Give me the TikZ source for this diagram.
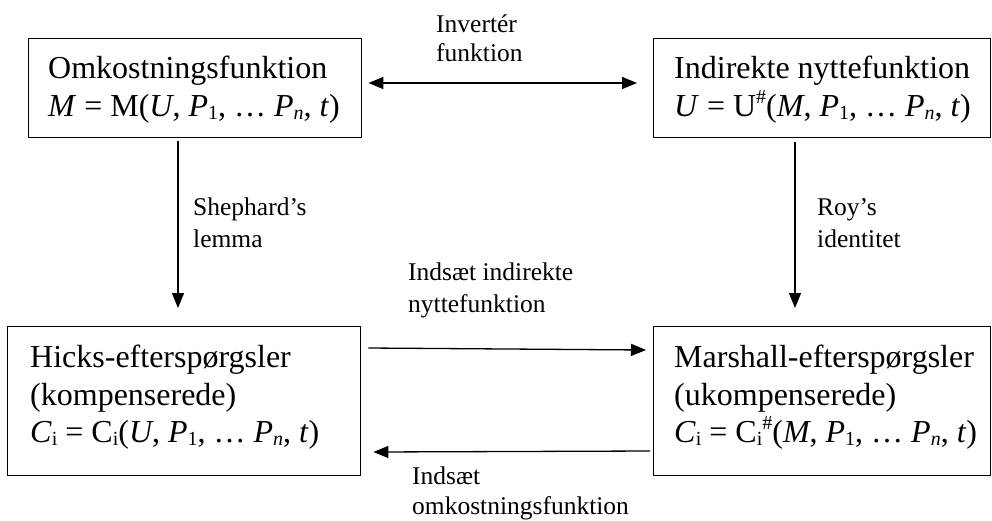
\documentclass[tikz,border=0pt]{standalone}
\usepackage{fontspec}
\setmainfont{Liberation Serif}
\usetikzlibrary{arrows.meta}
\newcommand\mysub[1]{\raisebox{-0.1em}{\fontsize{20}{20}\selectfont #1}}
\newcommand\mysup[1]{\raisebox{0.4em}{\fontsize{20}{20}\selectfont #1}}
\tikzset{
  box/.style={draw, line width=1.4pt, anchor=north west, inner sep=0pt},
  bigtxt/.style={anchor=base west, inner sep=0pt, font=\fontsize{32}{37}\selectfont},
  lbl/.style={anchor=base west, inner sep=0pt, font=\fontsize{25.5}{30}\selectfont},
  arr/.style={line width=1.3pt, -{Triangle[length=15pt,width=12pt]}},
  darr/.style={line width=1.3pt, {Triangle[length=15pt,width=12pt]}-{Triangle[length=15pt,width=12pt]}},
}
\begin{document}
\begin{tikzpicture}[x=1pt,y=-1pt]
\useasboundingbox (0,0) rectangle (992,520);
% boxes
\node[box, minimum width=333pt, minimum height=99pt] (tl) at (28,38) {};
\node[box, minimum width=337pt, minimum height=99pt] (tr) at (653,38) {};
\node[box, minimum width=353pt, minimum height=149pt] (bl) at (7,326) {};
\node[box, minimum width=337pt, minimum height=149pt] (br) at (653,326) {};
% box texts
\node[bigtxt] (tl1) at (48,78) {Omkostningsfunktion};
\node[bigtxt] (tl2) at (48,116) {\textit{M} = M(\textit{U}, \textit{P}\mysub{1}, … \textit{P}\mysub{\textit{n}}, \textit{t})};
\node[bigtxt] (tr1) at (674,78) {Indirekte nyttefunktion};
\node[bigtxt] (tr2) at (674,116) {\textit{U} = U\mysup{\#}(\textit{M}, \textit{P}\mysub{1}, … \textit{P}\mysub{\textit{n}}, \textit{t})};
\node[bigtxt] (bl1) at (30,367) {Hicks-efterspørgsler};
\node[bigtxt] (bl2) at (30,405) {(kompenserede)};
\node[bigtxt] (bl3) at (30,442) {\textit{C}\mysub{i} = C\mysub{i}(\textit{U}, \textit{P}\mysub{1}, … \textit{P}\mysub{\textit{n}}, \textit{t})};
\node[bigtxt] (br1) at (674,367) {Marshall-efterspørgsler};
\node[bigtxt] (br2) at (674,405) {(ukompenserede)};
\node[bigtxt] (br3) at (674,442) {\textit{C}\mysub{i} = C\mysub{i}\mysup{\#}(\textit{M}, \textit{P}\mysub{1}, … \textit{P}\mysub{\textit{n}}, \textit{t})};
% labels
\node[lbl] (la1) at (436,32) {Invertér};
\node[lbl] (la2) at (436,61) {funktion};
\node[lbl] (lb1) at (193,215) {Shephard’s};
\node[lbl] (lb2) at (193,247) {lemma};
\node[lbl] (lc1) at (817,215) {Roy’s};
\node[lbl] (lc2) at (817,247) {identitet};
\node[lbl] (ld1) at (408,280) {Indsæt indirekte};
\node[lbl] (ld2) at (408,312) {nyttefunktion};
\node[lbl] (le1) at (412,484) {Indsæt};
\node[lbl] (le2) at (412,514) {omkostningsfunktion};
% connectors
\draw[darr] ([shift={(6,45)}]tl.north east) -- ([shift={(-16,45)}]tr.north west);
\coordinate (s1) at ([xshift=150pt]tl.south west);
\draw[arr, shorten <=3pt, shorten >=18pt] (s1) -- (s1 |- bl.north);
\coordinate (s2) at ([xshift=142pt]tr.south west);
\draw[arr, shorten <=4pt, shorten >=18pt] (s2) -- (s2 |- br.north);
\draw[arr] ([shift={(7,22)}]bl.north east) -- ([shift={(-7,24)}]br.north west);
\draw[arr] ([shift={(-3,125)}]br.north west) -- ([shift={(12,126)}]bl.north east);
\end{tikzpicture}
\end{document}
